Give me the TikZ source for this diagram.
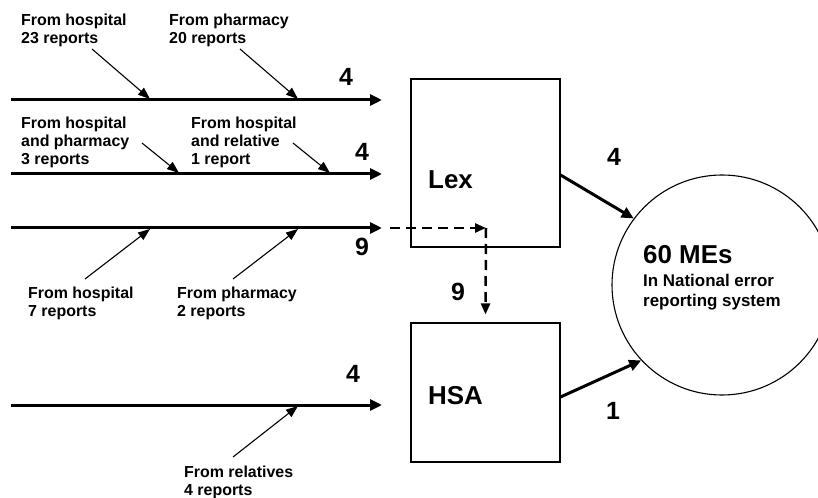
\documentclass[tikz,border=0pt]{standalone}
\usepackage{fontspec}
\setmainfont{Liberation Sans}
\usetikzlibrary{arrows.meta,positioning}

\begin{document}
\begin{tikzpicture}[x=1bp,y=-1bp,
    flow/.style={line width=3bp,-{Triangle[length=12bp,width=11bp]}},
    feed/.style={line width=1.1bp,-{Triangle[length=12bp,width=9bp]}},
    transfer/.style={line width=2.5bp,dash pattern=on 10bp off 6bp,-{Triangle[length=11bp,width=9bp]}},
    count/.style={font=\bfseries\fontsize{25}{28}\selectfont,inner sep=0pt}]
      \useasboundingbox (0,0) rectangle (818,498);
      % agencies and the national system
      \begin{scope}[every node/.style={draw,line width=1.1bp,inner sep=0pt}]
        \node (lex)[minimum width=149bp,minimum height=168bp] at (485.5,163) {};
        \node (hsa)[minimum width=149bp,minimum height=139bp] at (485.5,392.5) {};
        \node (me)[circle,minimum size=220bp] at (722,285) {};
      \end{scope}
      \begin{scope}[every node/.style={font=\bfseries\fontsize{26}{29}\selectfont,inner sep=0pt,anchor=west}]
        \node (lexname) at (428,180) {Lex};
        \node (hsaname) at (428,396) {HSA};
        \node (total) at (643,255) {60 MEs};
      \end{scope}
      \node (totalnote)[font=\bfseries\fontsize{17}{20.5}\selectfont,align=left,inner sep=0pt,anchor=north west]
        at (643,274) {In National error\\reporting system};
      % sources of the reports
      \begin{scope}[every node/.style={font=\bfseries\fontsize{16}{18}\selectfont,align=left,inner sep=0pt,anchor=north west}]
        \node (hosp1) at (21,14) {From hospital\\23 reports};
        \node (pharm1) at (169,14) {From pharmacy\\20 reports};
        \node (hosp2) at (21,117) {From hospital\\and pharmacy\\3 reports};
        \node (rel2) at (191,117) {From hospital\\and relative\\1 report};
        \node (hosp3) at (28,287) {From hospital\\7 reports};
        \node (pharm3) at (177,287) {From pharmacy\\2 reports};
        \node (rel4) at (184,466) {From relatives\\4 reports};
      \end{scope}
      % line ends and feed points
      \coordinate (s1) at (11,100);  \coordinate (e1) at (382,100);
      \coordinate (s2) at (11,174);  \coordinate (e2) at (382,174);
      \coordinate (s3) at (11,228);  \coordinate (e3) at (382,228);
      \coordinate (s4) at (11,405);  \coordinate (e4) at (382,405);
      \coordinate (a1) at (150,99);  \coordinate (b1) at (298,99);
      \coordinate (a2) at (179,173); \coordinate (b2) at (330,173);
      \coordinate (a3) at (150,229); \coordinate (b3) at (298,229);
      \coordinate (b4) at (298,406);
      \coordinate (f1) at (92,49);   \coordinate (g1) at (240,49);
      \coordinate (f2) at (142,143); \coordinate (g2) at (293,143);
      \coordinate (f3) at (85,279);  \coordinate (g3) at (233,279);
      \coordinate (g4) at (233,457);
      \coordinate (d0) at (390,228); \coordinate (turn) at (486,228);
      \begin{scope}
        \path (s1) edge[flow] (e1);
        \path (s2) edge[flow] (e2);
        \path (s3) edge[flow] (e3);
        \path (s4) edge[flow] (e4);
        \path (f1) edge[feed] (a1);
        \path (g1) edge[feed] (b1);
        \path (f2) edge[feed] (a2);
        \path (g2) edge[feed] (b2);
        \path (f3) edge[feed] (a3);
        \path (g3) edge[feed] (b3);
        \path (g4) edge[feed] (b4);
        \path (d0) edge[transfer] (turn);
        \path (turn) edge[transfer] ([yshift=8bp]hsa.north);
        \path ([yshift=-12bp]lex.east) edge[flow] (me.143);
        \path ([yshift=-4.5bp]hsa.east) edge[flow] (me.223);
      \end{scope}
      % counts
      \node (c1)[count] at (346,77) {4};
      \node (c2)[count] at (362,152) {4};
      \node (c3)[count] at (362,247) {9};
      \node (c4)[count] at (353,374) {4};
      \node (c5)[count] at (458,292) {9};
      \node (c6)[count] at (614,157) {4};
      \node (c7)[count] at (613,411) {1};
\end{tikzpicture}
\end{document}
